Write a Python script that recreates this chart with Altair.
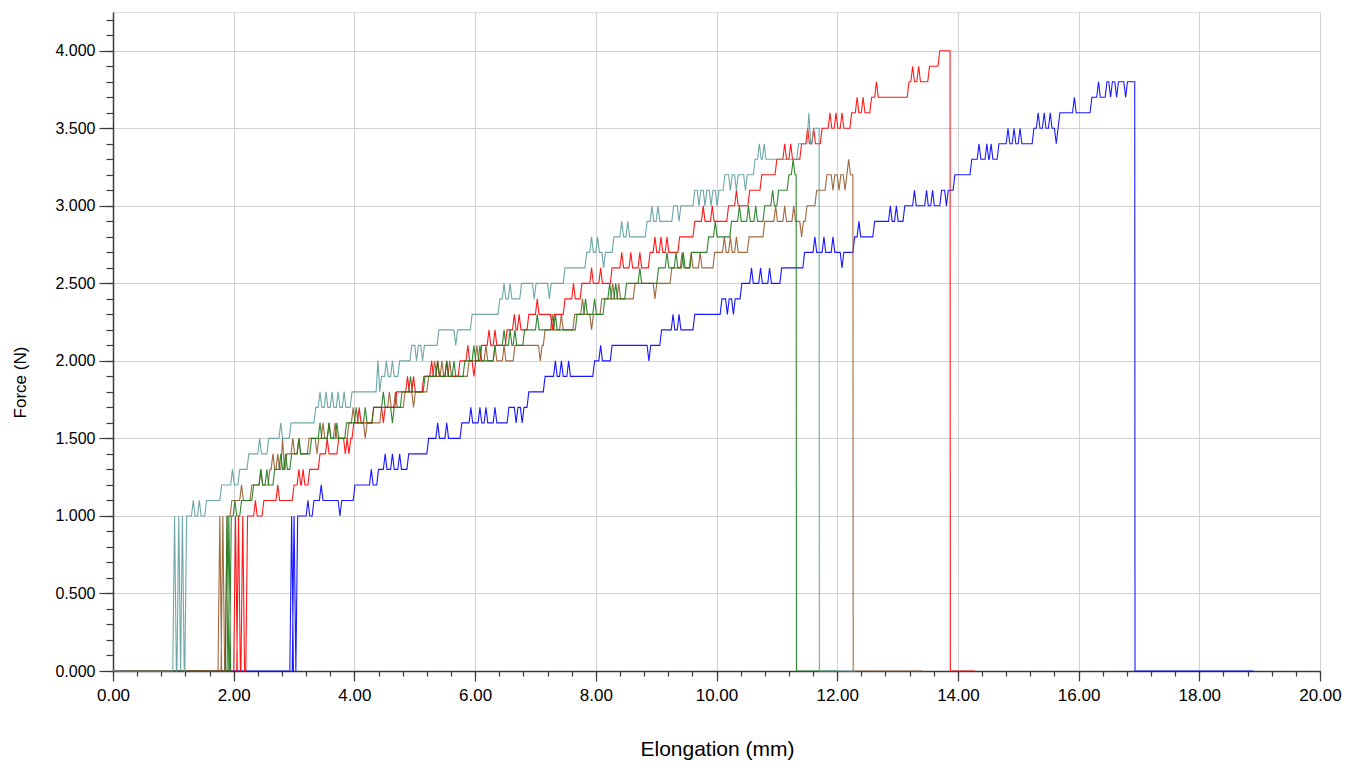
import altair as alt
import pandas as pd

# ---------------------------------------------------------------------------
# Tensile test traces: force (N) against elongation (mm) for five specimens.
# Each trace is stored as the force levels it climbs through, the elongation
# at which each level is first held, brief flickers between 0 and 1.0 N while
# the grips settle, short spikes off the current level, the break point and
# the elongation where logging stopped.
# ---------------------------------------------------------------------------

series_names = ["teal", "red", "green", "brown", "blue"]
series_colors = ["#5F9EA0", "#FF0000", "#1B7A1B", "#96592B", "#0000FF"]

# --- teal specimen ---
teal_levels = [1.0, 1.1, 1.2, 1.3, 1.4, 1.5, 1.6, 1.7, 1.8, 1.9, 2.0, 2.1, 2.2,
               2.3, 2.4, 2.5, 2.6, 2.7, 2.8, 2.9, 3.0, 3.1, 3.2, 3.3, 3.4, 3.5]
teal_starts = [1.19, 1.52, 1.77, 2.07, 2.22, 2.55, 2.92, 3.33, 3.93, 4.42, 4.72,
               4.92, 5.37, 5.92, 6.38, 6.74, 7.46, 7.82, 8.27, 8.82, 9.26, 9.61,
               10.11, 10.61, 11.33, 11.58]
teal_flickers = [0.99, 1.06, 1.12]
teal_spikes = [(1.30, 1.1), (1.40, 1.1), (1.95, 1.3), (2.40, 1.5), (2.75, 1.6),
               (3.40, 1.8), (3.50, 1.8), (3.60, 1.8), (3.70, 1.8), (3.80, 1.8),
               (4.36, 2.0), (4.50, 2.0), (4.60, 2.0), (5.00, 2.0), (5.10, 2.0),
               (5.65, 2.1), (6.45, 2.5), (6.55, 2.5), (6.95, 2.4), (7.20, 2.4),
               (7.90, 2.8), (8.00, 2.8), (8.10, 2.6), (8.40, 2.9), (8.50, 2.9),
               (8.90, 3.0), (9.00, 3.0), (9.35, 2.9), (9.68, 3.0), (9.78, 3.0),
               (9.88, 3.0), (9.98, 3.0), (10.20, 3.1), (10.30, 3.1), (10.45, 3.1),
               (10.68, 3.4), (10.76, 3.4), (11.50, 3.6)]
teal_break = 11.70
teal_end = 12.30

# --- red specimen ---
red_levels = [1.0, 1.1, 1.2, 1.3, 1.4, 1.5, 1.6, 1.7, 1.8, 1.9, 2.0, 2.1, 2.2,
              2.3, 2.4, 2.5, 2.6, 2.7, 2.8, 2.9, 3.0, 3.1, 3.2, 3.3, 3.4, 3.5,
              3.6, 3.7, 3.8, 3.9, 4.0]
red_starts = [2.20, 2.47, 2.97, 3.23, 3.40, 3.71, 3.96, 4.29, 4.67, 5.12, 5.72,
              6.08, 6.50, 6.86, 7.46, 7.74, 8.24, 8.87, 9.36, 9.61, 10.17, 10.52,
              10.72, 10.97, 11.38, 11.72, 12.21, 12.54, 13.16, 13.50, 13.67]
red_flickers = [2.00, 2.05, 2.12]
red_spikes = [(2.33, 1.1), (2.70, 1.2), (3.05, 1.3), (3.12, 1.3), (3.52, 1.5),
              (3.82, 1.4), (3.88, 1.4), (4.05, 1.7), (4.45, 1.6), (4.85, 1.9),
              (4.95, 1.9), (5.25, 2.0), (5.35, 2.0), (5.50, 2.0), (5.85, 2.1),
              (5.95, 1.9), (6.20, 2.2), (6.30, 2.2), (6.62, 2.3), (6.70, 2.3),
              (7.00, 2.4), (7.25, 2.2), (7.60, 2.5), (7.90, 2.6), (8.05, 2.6),
              (8.40, 2.7), (8.55, 2.7), (8.70, 2.7), (8.95, 2.8), (9.05, 2.8),
              (9.15, 2.8), (9.75, 3.0), (9.90, 3.0), (10.30, 3.1), (11.10, 3.4),
              (11.20, 3.4), (11.48, 3.5), (11.58, 3.5), (11.85, 3.6), (11.95, 3.6),
              (12.05, 3.6), (12.30, 3.7), (12.40, 3.7), (12.62, 3.8), (13.22, 3.9),
              (13.32, 3.9)]
red_break = 13.87
red_end = 14.28

# --- green specimen ---
green_levels = [1.0, 1.1, 1.2, 1.3, 1.4, 1.5, 1.6, 1.7, 1.8, 1.9, 2.0, 2.1, 2.2,
                2.3, 2.4, 2.5, 2.6, 2.7, 2.8, 2.9, 3.0, 3.1, 3.2]
green_starts = [1.93, 2.10, 2.30, 2.65, 2.93, 3.26, 3.84, 4.29, 4.76, 5.14, 5.80,
                6.30, 6.79, 7.66, 8.12, 8.48, 9.01, 9.56, 9.84, 10.22, 10.77,
                11.00, 11.17]
green_flickers = [1.86, 1.89]
green_spikes = [(1.99, 1.1), (2.42, 1.3), (2.52, 1.3), (2.75, 1.4), (2.83, 1.4),
                (3.05, 1.5), (3.40, 1.6), (3.55, 1.6), (3.68, 1.6), (4.00, 1.7),
                (4.15, 1.7), (4.45, 1.8), (4.60, 1.6), (4.90, 1.9), (5.35, 2.0),
                (5.50, 2.0), (5.62, 2.0), (5.95, 2.1), (6.05, 2.1), (6.45, 2.2),
                (6.55, 2.2), (6.63, 2.2), (7.00, 2.3), (7.30, 2.3), (7.80, 2.4),
                (7.95, 2.4), (8.20, 2.5), (8.30, 2.5), (8.70, 2.6), (9.15, 2.7),
                (9.30, 2.7), (9.42, 2.7), (9.95, 2.9), (10.35, 3.0), (10.50, 3.0),
                (10.62, 3.0), (10.90, 3.1), (11.24, 3.3)]
green_break = 11.32
green_end = 12.00

# --- brown specimen ---
brown_levels = [1.0, 1.1, 1.2, 1.3, 1.4, 1.5, 1.6, 1.7, 1.8, 1.9, 2.0, 2.1, 2.2,
                2.3, 2.4, 2.5, 2.6, 2.7, 2.8, 2.9, 3.0, 3.1, 3.2]
brown_starts = [1.86, 1.94, 2.27, 2.57, 2.85, 3.22, 3.88, 4.42, 4.81, 5.20, 5.87,
                6.63, 7.13, 7.62, 8.07, 8.62, 9.23, 9.94, 10.51, 10.77, 11.47,
                11.63, 11.80]
brown_flickers = [1.74, 1.79]
brown_spikes = [(2.10, 1.2), (2.42, 1.3), (2.62, 1.4), (2.70, 1.4), (2.78, 1.5),
                (2.95, 1.5), (3.05, 1.5), (3.35, 1.4), (3.45, 1.6), (3.55, 1.6),
                (3.65, 1.6), (3.95, 1.7), (4.15, 1.5), (4.55, 1.8), (4.65, 1.8),
                (4.95, 1.7), (5.30, 2.0), (5.42, 2.0), (5.55, 2.0), (6.00, 2.1),
                (6.15, 2.1), (6.30, 2.1), (6.45, 2.1), (7.05, 2.0), (7.25, 2.3),
                (7.40, 2.3), (7.75, 2.4), (7.90, 2.2), (8.25, 2.5), (8.35, 2.5),
                (8.95, 2.4), (9.40, 2.7), (9.55, 2.7), (9.70, 2.7), (10.10, 2.8),
                (10.20, 2.8), (10.30, 2.8), (10.95, 3.0), (11.10, 3.0), (11.25, 3.0),
                (11.38, 2.8), (11.90, 3.1), (12.00, 3.1), (12.10, 3.1), (12.16, 3.3)]
brown_break = 12.26
brown_end = 13.40

# --- blue specimen ---
blue_levels = [1.0, 1.1, 1.2, 1.3, 1.4, 1.5, 1.6, 1.7, 1.8, 1.9, 2.0, 2.1, 2.2,
               2.3, 2.4, 2.5, 2.6, 2.7, 2.8, 2.9, 3.0, 3.1, 3.2, 3.3, 3.4, 3.5,
               3.6, 3.7, 3.8]
blue_starts = [3.03, 3.30, 3.98, 4.37, 4.87, 5.20, 5.75, 6.53, 6.86, 7.13, 7.95,
               8.24, 9.06, 9.61, 10.06, 10.39, 11.05, 11.43, 12.26, 12.59, 13.09,
               13.70, 13.92, 14.20, 14.65, 15.23, 15.66, 16.19, 16.44]
blue_flickers = [2.93, 2.97]
blue_spikes = [(3.20, 1.1), (3.42, 1.2), (3.73, 1.0), (4.25, 1.3), (4.48, 1.4),
               (4.60, 1.4), (4.72, 1.4), (5.35, 1.6), (5.50, 1.6), (5.90, 1.7),
               (6.05, 1.7), (6.15, 1.7), (6.30, 1.7), (6.65, 1.6), (6.75, 1.6),
               (7.30, 2.0), (7.40, 2.0), (7.52, 2.0), (8.05, 2.1), (8.85, 2.0),
               (9.25, 2.3), (9.35, 2.3), (10.15, 2.3), (10.25, 2.3), (10.55, 2.6),
               (10.70, 2.6), (10.85, 2.6), (11.60, 2.8), (11.75, 2.8), (11.90, 2.8),
               (12.05, 2.6), (12.33, 2.9), (12.85, 3.0), (12.95, 3.0), (13.25, 3.1),
               (13.45, 3.1), (13.55, 3.1), (13.78, 3.0), (14.32, 3.4), (14.45, 3.4),
               (14.52, 3.4), (14.80, 3.5), (14.90, 3.5), (15.00, 3.5), (15.30, 3.6),
               (15.40, 3.6), (15.50, 3.6), (15.60, 3.4), (15.90, 3.7), (16.30, 3.8),
               (16.50, 3.7), (16.60, 3.7), (16.75, 3.7)]
blue_break = 16.93
blue_end = 18.90

# Axis ticks: labelled every 2 mm / 0.5 N, minor marks every 0.4 mm / 0.1 N
x_major_ticks = [2.0 * i for i in range(11)]
x_minor_ticks = [round(0.4 * i, 1) for i in range(51)]
y_major_ticks = [0.5 * i for i in range(9)]
y_minor_ticks = [round(0.1 * i, 1) for i in range(43)]

RISE = 0.03  # elongation covered by one logged sample


def trace(name, levels, starts, flickers, spikes, brk, end):
    """Turn the level/spike record of one specimen into an ordered polyline."""
    events = [(x, "spike", 1.0) for x in flickers]
    events += [(x, "step", lv) for x, lv in zip(starts, levels)]
    events += [(x, "spike", v) for x, v in spikes]
    events.sort(key=lambda e: e[0])
    pts = [(0.0, 0.0)]
    cur = 0.0
    for x, kind, val in events:
        if kind == "step":
            pts += [(x, cur), (x + RISE, val)]
            cur = val
        else:
            pts += [(x, cur), (x + RISE, val), (x + 2 * RISE, cur)]
    pts += [(brk, cur), (brk + 0.005, 0.0), (end, 0.0)]
    return pd.DataFrame({"series": name, "x": [p[0] for p in pts],
                         "y": [p[1] for p in pts], "i": range(len(pts))})


df = pd.concat([
    trace("blue", blue_levels, blue_starts, blue_flickers, blue_spikes, blue_break, blue_end),
    trace("brown", brown_levels, brown_starts, brown_flickers, brown_spikes, brown_break, brown_end),
    trace("red", red_levels, red_starts, red_flickers, red_spikes, red_break, red_end),
    trace("green", green_levels, green_starts, green_flickers, green_spikes, green_break, green_end),
    trace("teal", teal_levels, teal_starts, teal_flickers, teal_spikes, teal_break, teal_end),
], ignore_index=True)

FONT = "Liberation Sans, Arial, sans-serif"
AXIS_INK = "#3a3a3a"
GRID = "#d2d2d2"

x_scale = alt.Scale(domain=[0, 20], nice=False, zero=False)
y_scale = alt.Scale(domain=[0, 4.25], nice=False)

# Main layer: traces, labelled major ticks and grid
x_major_axis = alt.Axis(
    orient="bottom", values=x_major_ticks, format=".2f",
    tickSize=10, tickColor=AXIS_INK, tickWidth=1.2,
    grid=True, gridColor=GRID, gridWidth=1,
    domainColor=AXIS_INK, domainWidth=1.5,
    labelFont=FONT, labelFontSize=17, labelColor="#000000", labelPadding=6,
    labelOverlap=False, labelFlush=False,
    titleFont=FONT, titleFontSize=21, titleFontWeight="normal", titleColor="#000000",
    titleX=604, titleY=78, titleBaseline="middle", titleAlign="center",
)
y_major_axis = alt.Axis(
    orient="left", values=y_major_ticks, format=".3f",
    tickSize=14, tickColor=AXIS_INK, tickWidth=1.2,
    grid=True, gridColor=GRID, gridWidth=1,
    domainColor=AXIS_INK, domainWidth=1.5,
    labelFont=FONT, labelFontSize=16, labelColor="#000000", labelPadding=4,
    labelOverlap=False, labelFlush=False,
    titleFont=FONT, titleFontSize=17, titleFontWeight="normal", titleColor="#000000",
    titleX=-93, titleY=370, titleAngle=270, titleBaseline="middle", titleAlign="center",
)

lines = alt.Chart(df).mark_line(strokeWidth=1.1, opacity=0.9).encode(
    x=alt.X("x:Q", title="Elongation (mm)", scale=x_scale, axis=x_major_axis),
    y=alt.Y("y:Q", title="Force (N)", scale=y_scale, axis=y_major_axis),
    color=alt.Color("series:N", legend=None,
                    scale=alt.Scale(domain=series_names, range=series_colors)),
    detail="series:N",
    order="i:Q",
)

# Minor tick layer: unlabelled short ticks on the same scales
x_minor_axis = alt.Axis(
    orient="bottom", values=x_minor_ticks, labels=False, grid=False, domain=False,
    tickSize=5, tickColor=AXIS_INK, tickWidth=1.2, title=None,
)
y_minor_axis = alt.Axis(
    orient="left", values=y_minor_ticks, labels=False, grid=False, domain=False,
    tickSize=7, tickColor=AXIS_INK, tickWidth=1.2, title=None,
)
minor = alt.Chart(df).mark_point(opacity=0, size=1).encode(
    x=alt.X("x:Q", scale=x_scale, axis=x_minor_axis),
    y=alt.Y("y:Q", scale=y_scale, axis=y_minor_axis),
)

chart = alt.layer(lines, minor).resolve_axis(
    x="independent", y="independent"
).properties(
    width=1207, height=659,
    padding={"left": 113, "top": 12, "right": 38, "bottom": 96},
    autosize="none",
).configure_view(stroke=None).configure(background="#ffffff")

chart.save("out.html", embed_options={"renderer": "svg", "actions": False})
